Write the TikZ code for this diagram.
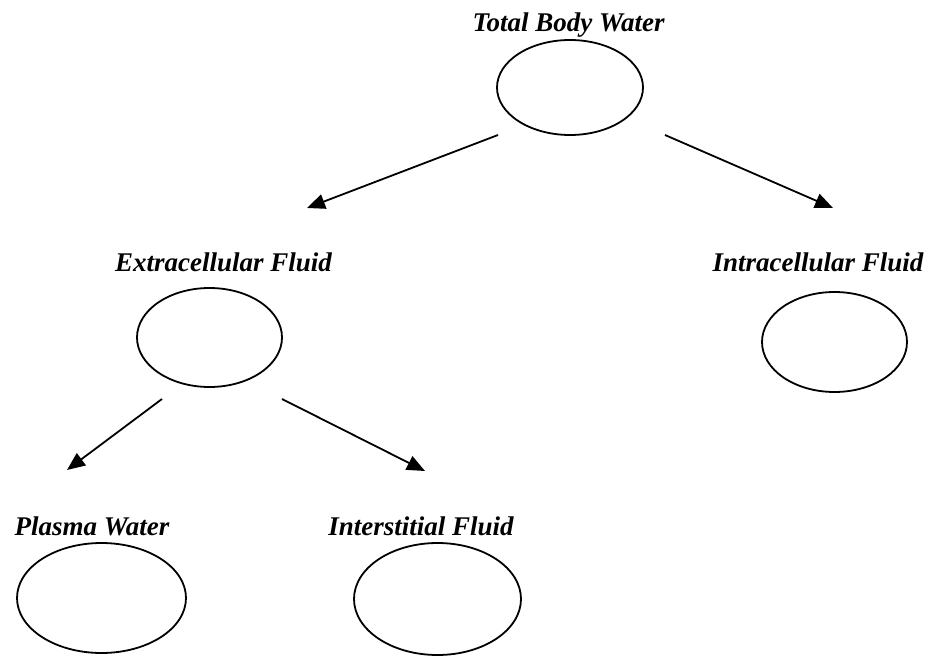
\documentclass[tikz,border=0pt]{standalone}
\usepackage{fontspec}
\setmainfont{Liberation Serif}
\usetikzlibrary{arrows.meta,shapes.geometric}
\begin{document}
\begin{tikzpicture}[x=1pt,y=-1pt,
  pool/.style={draw,line width=1.8pt,ellipse,inner sep=0pt},
  caption/.style={anchor=base,inner sep=0pt,font=\fontsize{27}{30}\selectfont\bfseries\itshape},
  link/.style={line width=1.8pt,-{Triangle[length=18pt,width=15pt]}}]
\useasboundingbox (0,0) rectangle (932,663);
% compartments
\node[pool,minimum width=146pt,minimum height=95pt] (tbw) at (570,87.5) {};
\node[pool,minimum width=145pt,minimum height=99pt] (ecf) at (209.5,337.5) {};
\node[pool,minimum width=145pt,minimum height=100pt] (icf) at (834.5,342) {};
\node[pool,minimum width=169pt,minimum height=110pt] (pw) at (101.5,598) {};
\node[pool,minimum width=167pt,minimum height=112pt] (isf) at (437.5,599) {};
% captions
\node[caption] (tbwl) at (568.5,32) {Total Body Water};
\node[caption] (ecfl) at (223.5,272) {Extracellular Fluid};
\node[caption] (icfl) at (818,272) {Intracellular Fluid};
\node[caption] (pwl) at (92,535) {Plasma Water};
\node[caption] (isfl) at (421,535) {Interstitial Fluid};
% arrow ends
\coordinate (s1) at (498,135);
\coordinate (e1) at (307,208);
\coordinate (s2) at (665,135);
\coordinate (e2) at (833,208);
\coordinate (s3) at (162,399);
\coordinate (e3) at (67,470);
\coordinate (s4) at (282,399);
\coordinate (e4) at (425,471);
\draw[link] (s1) -- (e1);
\draw[link] (s2) -- (e2);
\draw[link] (s3) -- (e3);
\draw[link] (s4) -- (e4);
\end{tikzpicture}
\end{document}
